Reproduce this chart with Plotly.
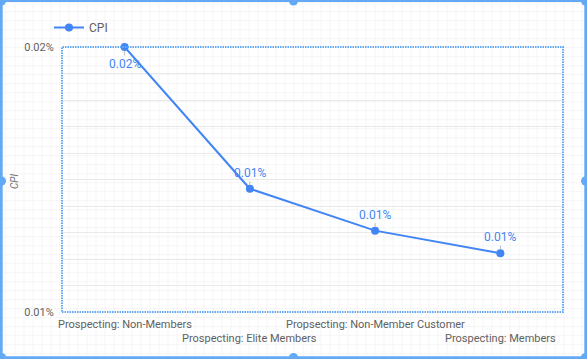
import plotly.graph_objects as go

# ---- data ----
categories = [
    "Prospecting: Non-Members",
    "Prospecting: Elite Members",
    "Propsecting: Non-Member Customer",
    "Prospecting: Members",
]
cpi_values = [0.000200, 0.0001465, 0.0001307, 0.0001222]
series_name = "CPI"
y_tick_values = [0.0001, 0.0002]
y_tick_labels = ["0.01%", "0.02%"]

# ---- geometry / style ----
FIG_W, FIG_H = 587, 359
L, R, T, B = 62, 24, 47, 47
PW, PH = FIG_W - L - R, FIG_H - T - B
BLUE = "#4285f4"
SEL = "#64a9f6"
TXT = "#616161"
FONT = "Roboto"


def xp(px):
    return (px - L) / PW


def yp(py):
    return (FIG_H - B - py) / PH


fig = go.Figure()
fig.add_trace(go.Scatter(
    x=categories, y=cpi_values, name=series_name, mode="lines+markers",
    line=dict(color=BLUE, width=2), marker=dict(color=BLUE, size=8),
    cliponaxis=False, hoverinfo="skip",
))

annotations = []
# data labels with leader lines
for i, (c, v) in enumerate(zip(categories, cpi_values)):
    annotations.append(dict(
        x=c, y=v, xref="x", yref="y", text=f"{v*100:.2f}%",
        showarrow=True, arrowhead=0, arrowwidth=1, arrowcolor="#bdbdbd",
        ax=0, ay=(17 if i == 0 else -16), standoff=4,
        font=dict(family=FONT, size=12, color=BLUE),
    ))
# staggered x category labels
for i, c in enumerate(categories):
    annotations.append(dict(
        x=c, y=0, xref="x", yref="paper", text=c, showarrow=False,
        yanchor="middle", yshift=(-12 if i % 2 == 0 else -26),
        font=dict(family=FONT, size=11, color=TXT),
    ))
# y-axis title
annotations.append(dict(
    x=xp(14), y=yp(182), xref="paper", yref="paper", text="<i>CPI</i>",
    textangle=-90, showarrow=False, xanchor="center", yanchor="middle",
    font=dict(family=FONT, size=10, color="#757575"),
))

shapes = []
# faint canvas grid
segs = []
gx = 6.0
while gx < FIG_W:
    segs.append(f"M{xp(gx)},{yp(0)}L{xp(gx)},{yp(FIG_H)}")
    gx += 9.0
gy = 2.7
while gy < FIG_H:
    segs.append(f"M{xp(0)},{yp(gy)}L{xp(FIG_W)},{yp(gy)}")
    gy += 9.0
shapes.append(dict(type="path", path="".join(segs), xref="paper", yref="paper",
                   line=dict(color="#f5f5f5", width=1), layer="below"))
# dotted plot border
shapes.append(dict(type="rect", x0=0, x1=1, y0=0, y1=1, xref="paper", yref="paper",
                   line=dict(color=SEL, width=2, dash="1.5px,1px"), layer="above"))
# selection frame
shapes.append(dict(type="rect", x0=xp(1.2), x1=xp(585.8), y0=yp(0.4), y1=yp(357.8),
                   xref="paper", yref="paper", line=dict(color=SEL, width=3)))
# selection handles
r = 4.5
for hx, hy in [(1.5, 1), (293.5, 1), (585.5, 1), (1.5, 181), (585.5, 181),
               (1.5, 357.5), (293.5, 357.5), (585.5, 357.5)]:
    shapes.append(dict(type="circle", x0=xp(hx - r), x1=xp(hx + r),
                       y0=yp(hy + r), y1=yp(hy - r), xref="paper", yref="paper",
                       fillcolor=SEL, line=dict(color=SEL, width=0)))

fig.update_layout(
    width=FIG_W, height=FIG_H,
    margin=dict(l=L, r=R, t=T, b=B, autoexpand=False),
    paper_bgcolor="white", plot_bgcolor="rgba(0,0,0,0)",
    font=dict(family=FONT, size=11, color=TXT),
    showlegend=True,
    legend=dict(orientation="h", xref="container", yref="container",
                x=49 / FIG_W, y=1 - 27.5 / FIG_H, xanchor="left", yanchor="middle",
                font=dict(family=FONT, size=12, color=TXT), bgcolor="rgba(0,0,0,0)"),
    xaxis=dict(range=[-0.5, 3.5], showticklabels=False, showgrid=False,
               zeroline=False, showline=False, fixedrange=True, automargin=False),
    yaxis=dict(range=[0.0001, 0.0002], tickvals=y_tick_values, ticktext=y_tick_labels,
               showgrid=False, zeroline=False, showline=False, automargin=False,
               ticks="outside", ticklen=5, tickcolor="rgba(0,0,0,0)",
               tickfont=dict(family=FONT, size=11, color=TXT),
               minor=dict(dtick=0.00001, tick0=0.0001, showgrid=True,
                          gridcolor="#e9e9e9", gridwidth=1, ticks="")),
    annotations=annotations, shapes=shapes,
)

fig.write_html("out.html", config={"displayModeBar": False},
               post_script="document.body.style.margin='0';")
